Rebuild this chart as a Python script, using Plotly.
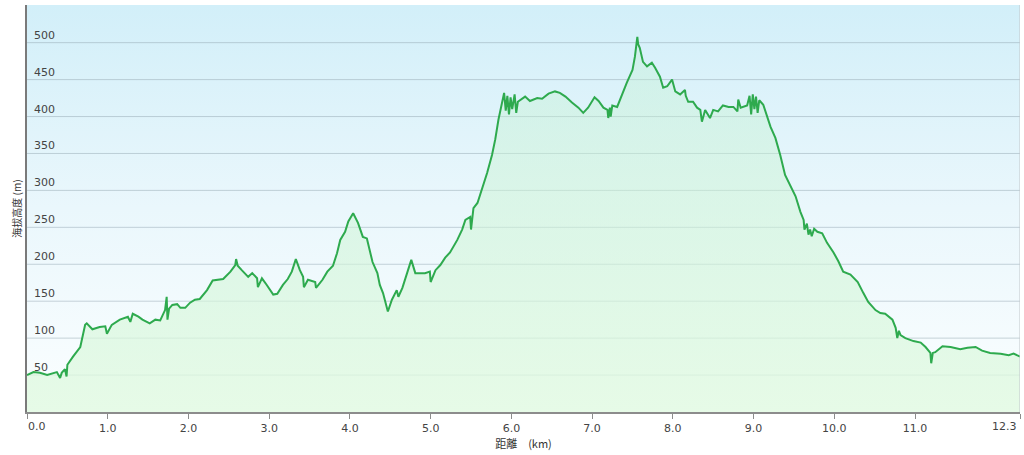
import plotly.graph_objects as go

# ---- data ----
dist_km = [0.00, 0.08, 0.16, 0.25, 0.37, 0.41, 0.43, 0.47, 0.49, 0.50, 0.57, 0.66, 0.72, 0.74, 0.81,
           0.90, 0.97, 0.99, 1.05, 1.15, 1.25, 1.28, 1.31, 1.38, 1.43, 1.52, 1.59, 1.65, 1.71, 1.73,
           1.74, 1.76, 1.80, 1.86, 1.90, 1.96, 2.02, 2.08, 2.14, 2.23, 2.30, 2.37, 2.43, 2.52, 2.58,
           2.59, 2.61, 2.66, 2.74, 2.79, 2.85, 2.86, 2.91, 2.97, 3.05, 3.10, 3.17, 3.23, 3.28, 3.33,
           3.38, 3.42, 3.43, 3.48, 3.57, 3.58, 3.66, 3.72, 3.79, 3.84, 3.88, 3.94, 3.98, 4.04, 4.10,
           4.16, 4.21, 4.28, 4.34, 4.37, 4.41, 4.47, 4.52, 4.58, 4.60, 4.65, 4.71, 4.76, 4.81, 4.87,
           4.93, 4.99, 5.00, 5.06, 5.12, 5.18, 5.24, 5.33, 5.39, 5.43, 5.49, 5.50, 5.53, 5.58, 5.64,
           5.70, 5.76, 5.80, 5.84, 5.89, 5.91, 5.93, 5.95, 5.97, 5.99, 6.01, 6.04, 6.06, 6.08, 6.17,
           6.23, 6.32, 6.38, 6.46, 6.54, 6.60, 6.67, 6.75, 6.83, 6.89, 6.95, 7.03, 7.08, 7.14, 7.19,
           7.20, 7.22, 7.23, 7.25, 7.31, 7.37, 7.43, 7.50, 7.53, 7.56, 7.57, 7.59, 7.63, 7.68, 7.74,
           7.78, 7.84, 7.88, 7.93, 7.99, 8.03, 8.09, 8.15, 8.16, 8.19, 8.25, 8.30, 8.34, 8.36, 8.40,
           8.46, 8.50, 8.56, 8.62, 8.69, 8.75, 8.80, 8.81, 8.84, 8.92, 8.95, 8.97, 8.99, 9.01, 9.03,
           9.05, 9.07, 9.12, 9.17, 9.21, 9.27, 9.33, 9.39, 9.45, 9.52, 9.58, 9.62, 9.63, 9.66, 9.68,
           9.70, 9.72, 9.75, 9.79, 9.85, 9.91, 9.99, 10.05, 10.11, 10.20, 10.29, 10.36, 10.42, 10.51,
           10.57, 10.63, 10.72, 10.76, 10.78, 10.80, 10.82, 10.88, 10.98, 11.07, 11.13, 11.19, 11.20,
           11.22, 11.25, 11.34, 11.44, 11.56, 11.65, 11.75, 11.83, 11.93, 12.06, 12.16, 12.22, 12.30]

elevation_m = [50, 54, 53, 50, 54, 46, 53, 58, 48, 64, 75, 88, 118, 120, 112,
               115, 116, 106, 118, 125, 129, 122, 133, 129, 125, 120, 125, 124, 138, 156,
               125, 140, 145, 146, 141, 141, 148, 152, 153, 165, 178, 179, 180, 190, 199,
               207, 198, 192, 183, 188, 181, 169, 181, 172, 159, 160, 172, 180, 190, 207,
               192, 183, 169, 179, 176, 168, 179, 190, 198, 215, 233, 244, 258, 269, 256,
               237, 235, 203, 188, 172, 161, 136, 152, 165, 156, 168, 188, 206, 188, 188,
               188, 190, 176, 192, 199, 209, 216, 233, 247, 260, 264, 247, 276, 283, 303,
               324, 348, 369, 396, 419, 432, 408, 428, 403, 426, 410, 430, 405, 420, 427,
               421, 425, 424, 431, 434, 432, 427, 419, 412, 405, 412, 426, 421, 412, 409,
               398, 412, 400, 415, 413, 430, 446, 463, 481, 508, 498, 493, 474, 468, 473,
               466, 454, 439, 441, 450, 434, 430, 436, 428, 420, 420, 412, 409, 393, 409,
               398, 409, 407, 415, 413, 413, 407, 423, 412, 415, 428, 403, 430, 410, 427,
               405, 422, 416, 400, 386, 371, 348, 321, 308, 292, 271, 260, 247, 255, 240,
               247, 238, 248, 244, 242, 229, 216, 204, 190, 186, 176, 161, 149, 138,
               134, 133, 125, 114, 100, 110, 104, 100, 96, 94, 88, 80, 66,
               80, 81, 89, 88, 85, 87, 88, 83, 80, 79, 77, 79, 75]

x_tick_vals = [0, 1, 2, 3, 4, 5, 6, 7, 8, 9, 10, 11, 12.3]
x_tick_text = ["0.0", "1.0", "2.0", "3.0", "4.0", "5.0", "6.0", "7.0", "8.0", "9.0", "10.0", "11.0", "12.3"]
y_tick_vals = [50, 100, 150, 200, 250, 300, 350, 400, 450, 500]

X_MAX = 12.3
Y_MAX = 551
TICK_FONT = dict(family="DejaVu Sans", size=11, color="#444444")

fig = go.Figure()

# background gradient of the plotting area
fig.add_trace(go.Scatter(
    x=[0, X_MAX, X_MAX, 0, 0], y=[0, 0, Y_MAX, Y_MAX, 0],
    mode="lines", line=dict(width=0), fill="toself",
    fillgradient=dict(type="vertical",
                      colorscale=[[0, "#fbfeff"], [0.5, "#eaf7fc"], [1, "#d2eff9"]]),
    hoverinfo="skip", showlegend=False))

# horizontal gridlines (drawn above the background)
gx, gy = [], []
for v in y_tick_vals:
    gx += [0, X_MAX, None]
    gy += [v, v, None]
fig.add_trace(go.Scatter(x=gx, y=gy, mode="lines",
                         line=dict(color="rgba(140,160,170,0.45)", width=1),
                         hoverinfo="skip", showlegend=False))

# elevation profile
fig.add_trace(go.Scatter(
    x=dist_km, y=elevation_m, mode="lines",
    line=dict(color="#2eaa4e", width=2),
    fill="tozeroy",
    fillgradient=dict(type="vertical",
                      colorscale=[[0, "rgba(225,250,225,0.8)"], [1, "rgba(190,240,205,0.30)"]]),
    showlegend=False))

# right border
fig.add_shape(type="line", xref="x", yref="y", x0=X_MAX, x1=X_MAX, y0=0, y1=Y_MAX,
              line=dict(color="#c0c6ca", width=1))

# y tick labels drawn inside the plot, just above each gridline
for v in y_tick_vals:
    fig.add_annotation(x=0, y=v, xref="x", yref="y", text=str(v), showarrow=False,
                       xanchor="left", yanchor="bottom", xshift=5, yshift=-1, font=TICK_FONT)

# first and last x labels are kept inside the plot width
axis_text = [""] + x_tick_text[1:-1] + [""]
fig.add_annotation(x=x_tick_vals[0], y=0, xref="x", yref="paper", text=x_tick_text[0],
                   showarrow=False, xanchor="left", yanchor="top", yshift=-6, xshift=-1,
                   font=TICK_FONT)
fig.add_annotation(x=x_tick_vals[-1], y=0, xref="x", yref="paper", text=x_tick_text[-1],
                   showarrow=False, xanchor="right", yanchor="top", yshift=-6, xshift=-1,
                   font=TICK_FONT)

fig.update_layout(
    width=1024, height=455,
    margin=dict(l=27, r=4, t=5, b=43),
    paper_bgcolor="white", plot_bgcolor="rgba(0,0,0,0)",
    font=TICK_FONT,
    xaxis=dict(range=[0, X_MAX], tickvals=x_tick_vals, ticktext=axis_text, automargin=False,
               showgrid=False, zeroline=False, showline=True, linecolor="#8c8c8c", linewidth=1.5,
               ticks="outside", ticklen=5, tickcolor="#8c8c8c",
               title=dict(text="距離　(km)", standoff=2,
                          font=dict(family="Noto Sans CJK JP, DejaVu Sans", size=11, color="#333"))),
    yaxis=dict(range=[0, Y_MAX], showticklabels=False, showgrid=False, zeroline=False, automargin=False,
               showline=True, linecolor="#7a7a7a", linewidth=2, ticks="",
               title=dict(text="海拔高度 (m)", standoff=2,
                          font=dict(family="Noto Sans CJK JP, DejaVu Sans", size=10, color="#333"))),
)

fig.write_html("out.html", config={"displayModeBar": False},
               post_script="document.body.style.margin='0';document.body.style.overflow='hidden';")
